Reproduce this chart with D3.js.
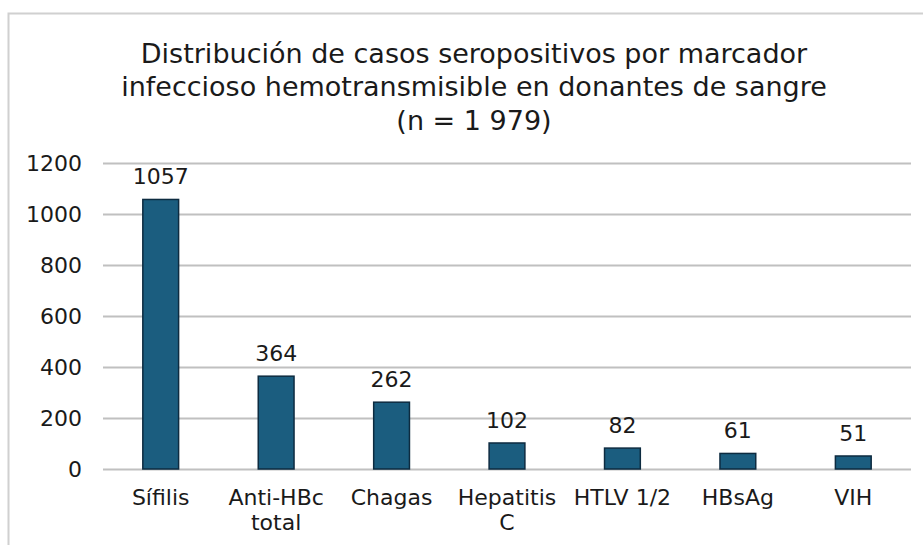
<!DOCTYPE html>
<html>
<head>
<meta charset="utf-8">
<script src="https://cdn.jsdelivr.net/npm/d3@7"></script>
<style>
  body { margin: 0; background: #fff; }
  .graph text { font-family: Verdana, "DejaVu Sans", sans-serif; fill: #1a1a1a; }
</style>
</head>
<body>
<div class="graph"></div>
<script>
const w = 923;
const h = 545;
const margin = {top: 163, right: 12, bottom: 76, left: 103};

// data
const categories = ["Sífilis", "Anti-HBc total", "Chagas", "Hepatitis C", "HTLV 1/2", "HBsAg", "VIH"];
const catLines = [["Sífilis"], ["Anti-HBc", "total"], ["Chagas"], ["Hepatitis", "C"], ["HTLV 1/2"], ["HBsAg"], ["VIH"]];
const values = [1057, 364, 262, 102, 82, 61, 51];
const yTicks = [0, 200, 400, 600, 800, 1000, 1200];
const titleLines = [
  "Distribución de casos seropositivos por marcador",
  "infeccioso hemotransmisible en donantes de sangre",
  "(n = 1 979)"
];

const canvas = d3.select('.graph')
               .append("svg")
               .attr("width", w)
               .attr("height", h);

// outer chart frame (only top and left edges are visible)
canvas.append("path")
  .attr("d", `M8.5,${h} V13.5 H${w}`)
  .attr("fill", "none")
  .attr("stroke", "#d0d0d0")
  .attr("stroke-width", 2);

const xScale = d3.scaleBand()
                 .domain(categories)
                 .range([margin.left, w - margin.right])
                 .paddingInner(0.69)
                 .paddingOuter(0.345);

const yScale = d3.scaleLinear()
                 .domain([0, 1200])
                 .range([h - margin.bottom, margin.top]);

// grid lines + y labels
const yAxis = d3.axisLeft(yScale)
                .tickValues(yTicks)
                .tickSize(-(w - margin.right - margin.left))
                .tickPadding(21)
                .tickFormat(d3.format("d"));

const gy = canvas.append("g")
      .attr("id", "y-axis")
      .attr("transform", `translate(${margin.left}, 0)`)
      .call(yAxis);

gy.select(".domain").remove();
gy.selectAll("line").attr("stroke", "#c0c0c0").attr("stroke-width", 2);
gy.selectAll("text").style("font-size", "22px").attr("fill", "#1a1a1a");

// bars
canvas.selectAll(".bar")
  .data(values)
  .enter().append("rect")
  .attr("class", "bar")
  .attr("x", (d, i) => xScale(categories[i]))
  .attr("y", d => yScale(d))
  .attr("width", xScale.bandwidth())
  .attr("height", d => yScale(0) - yScale(d))
  .attr("fill", "#1b5d7f")
  .attr("stroke", "#0d2b40")
  .attr("stroke-width", 1.5);

// value labels
canvas.selectAll(".val")
  .data(values)
  .enter().append("text")
  .attr("class", "val")
  .attr("x", (d, i) => xScale(categories[i]) + xScale.bandwidth() / 2)
  .attr("y", d => yScale(d) - 15)
  .attr("text-anchor", "middle")
  .style("font-size", "22px")
  .text(d => d);

// category labels
const cat = canvas.selectAll(".cat")
  .data(catLines)
  .enter().append("text")
  .attr("class", "cat")
  .attr("text-anchor", "middle")
  .style("font-size", "22px")
  .attr("transform", (d, i) => `translate(${xScale(categories[i]) + xScale.bandwidth() / 2}, ${h - margin.bottom + 36})`);

cat.selectAll("tspan")
  .data(d => d)
  .enter().append("tspan")
  .attr("x", 0)
  .attr("y", (d, i) => i * 25)
  .text(d => d);

// title
canvas.selectAll(".title")
  .data(titleLines)
  .enter().append("text")
  .attr("class", "title")
  .attr("x", 474)
  .attr("y", (d, i) => 62.5 + i * 33.5)
  .attr("text-anchor", "middle")
  .style("font-size", "27px")
  .text(d => d);
</script>
</body>
</html>
